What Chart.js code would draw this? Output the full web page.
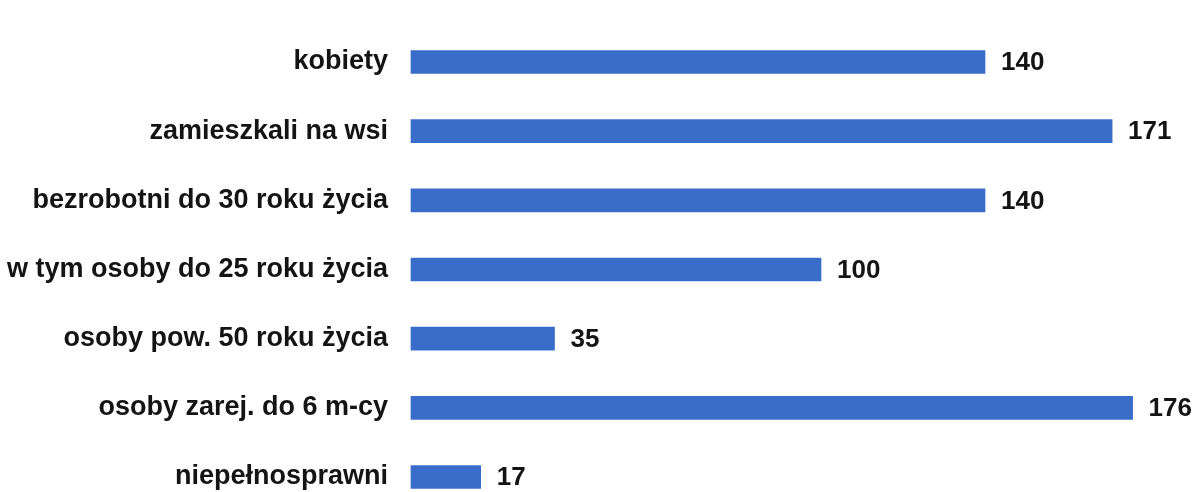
<!DOCTYPE html>
<html>
<head>
<meta charset="utf-8">
<script src="https://cdn.jsdelivr.net/npm/chart.js@4"></script>
<style>
  html, body { margin: 0; padding: 0; background: #fff; overflow: hidden; }
  #wrap { width: 1201px; height: 492px; }
  canvas { display: block; }
</style>
</head>
<body>
<div id="wrap"><canvas id="myChart" width="1201" height="492"></canvas></div>
<script>
const categories = [
  "kobiety",
  "zamieszkali na wsi",
  "bezrobotni do 30 roku życia",
  "w tym osoby do 25 roku życia",
  "osoby pow. 50 roku życia",
  "osoby zarej. do 6 m-cy",
  "niepełnosprawni"
];
const counts = [140, 171, 140, 100, 35, 176, 17];

const barColor = "#3a6cc9";
const textColor = "#141414";
const fontFamily = "'Liberation Sans', Arial, sans-serif";

// numbers drawn right after each bar end
const valueLabels = {
  id: "valueLabels",
  afterDatasetsDraw(chart) {
    const ctx = chart.ctx;
    const meta = chart.getDatasetMeta(0);
    ctx.save();
    ctx.font = "bold 26px " + fontFamily;
    ctx.fillStyle = textColor;
    ctx.textBaseline = "middle";
    ctx.textAlign = "left";
    meta.data.forEach((bar, i) => {
      ctx.fillText(String(counts[i]), bar.x + 16, bar.y + 1);
    });
    ctx.restore();
  }
};

new Chart(document.getElementById("myChart"), {
  type: "bar",
  data: {
    labels: categories,
    datasets: [{
      data: counts,
      backgroundColor: barColor,
      barThickness: 23,
      clip: false
    }]
  },
  options: {
    indexAxis: "y",
    responsive: false,
    animation: false,
    layout: { padding: { top: 62, bottom: 15, right: 11, left: 0 } },
    plugins: {
      legend: { display: false },
      tooltip: { enabled: false }
    },
    scales: {
      x: {
        display: false,
        min: 0,
        max: 190
      },
      y: {
        offset: false,
        grid: { display: false, drawTicks: false },
        border: { display: false },
        ticks: {
          color: textColor,
          font: { family: fontFamily, size: 27, weight: "bold" },
          padding: 23
        },
        afterFit(scale) {
          scale.width = 411;
          scale.paddingTop = 0;
          scale.paddingBottom = 0;
        }
      }
    }
  },
  plugins: [valueLabels]
});
</script>
</body>
</html>
